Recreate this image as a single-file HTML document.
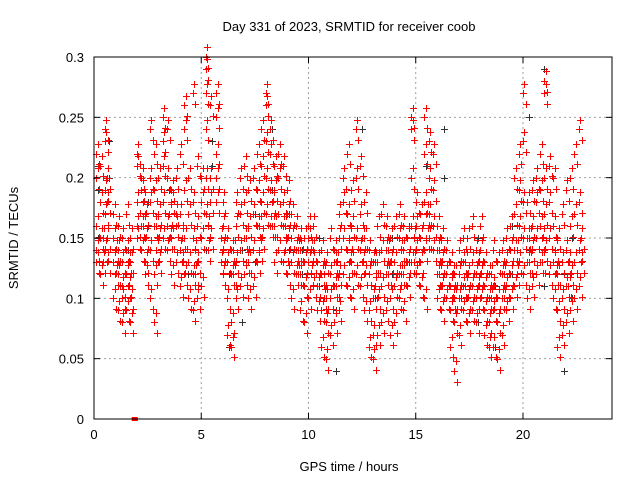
<!DOCTYPE html>
<html><head><meta charset="utf-8"><style>
body{margin:0;background:#fff}
svg{display:block;font-family:"Liberation Sans",sans-serif}
</style></head><body>
<svg id="chart" width="640" height="480">
<text x="349" y="31" font-size="13" text-anchor="middle">Day 331 of 2023, SRMTID for receiver coob</text>
<text x="349" y="471" font-size="13" text-anchor="middle">GPS time / hours</text>
<text x="18" y="238" font-size="13" text-anchor="middle" transform="rotate(-90 18 238)">SRMTID / TECUs</text>
<g id="grid"></g><g id="black"></g><g id="red"></g><g id="axes"></g>
</svg>
<script>
const xTicks=[0,5,10,15,20];
const yTicks=[0,0.05,0.1,0.15,0.2,0.25,0.3];
const yTickLabels=["0","0.05","0.1","0.15","0.2","0.25","0.3"];
const redTimes=[0.1,0.3,0.5,0.6,0.9,1.1,1.3,1.5,1.7,2.0,2.2,2.4,2.6,2.8,3.0,3.2,3.4,3.6,3.8,4.0,4.2,4.4,4.6,4.8,5.0,5.2,5.4,5.7,6.0,6.2,6.4,6.6,6.8,7.0,7.2,7.4,7.6,7.8,8.0,8.2,8.4,8.6,8.8,9.0,9.2,9.4,9.6,9.8,10.0,10.2,10.4,10.6,10.8,11.0,11.2,11.4,11.6,11.8,12.0,12.2,12.4,12.6,12.8,13.0,13.2,13.4,13.6,13.8,14.0,14.2,14.4,14.6,14.8,15.0,15.2,15.4,15.6,15.8,16.0,16.2,16.4,16.6,16.8,17.0,17.2,17.4,17.6,17.8,18.0,18.2,18.4,18.6,18.8,19.0,19.2,19.4,19.6,19.8,20.0,20.2,20.4,20.6,20.8,21.0,21.2,21.4,21.6,21.8,22.0,22.2,22.4,22.6,22.8];
const redVals=[[0.14,0.16,0.2,0.22,0.13],[0.12,0.15,0.18,0.21],[0.17,0.19,0.23,0.24,0.14],[0.2,0.18,0.15,0.13],[0.1,0.13,0.15,0.17],[0.09,0.12,0.14,0.16],[0.08,0.11,0.13,0.15,0.1],[0.09,0.12,0.14,0.17],[0.08,0.1,0.13,0.15],[0.15,0.18,0.21,0.22,0.16],[0.14,0.16,0.19,0.2],[0.12,0.15,0.17,0.13],[0.1,0.14,0.18,0.24,0.2],[0.08,0.12,0.16,0.19,0.22],[0.13,0.15,0.17,0.2],[0.15,0.18,0.21,0.25,0.23],[0.14,0.16,0.2,0.24],[0.12,0.15,0.18,0.19],[0.13,0.16,0.17,0.2],[0.11,0.14,0.17,0.22],[0.12,0.15,0.19,0.24,0.26],[0.1,0.13,0.17,0.2],[0.09,0.12,0.15,0.18,0.27],[0.1,0.13,0.16,0.21],[0.11,0.15,0.18,0.2],[0.17,0.2,0.24,0.27,0.3,0.29],[0.15,0.18,0.2,0.26],[0.18,0.2,0.22,0.25,0.27],[0.12,0.14,0.16,0.18],[0.07,0.1,0.13,0.15],[0.06,0.08,0.12,0.14],[0.1,0.13,0.16,0.18],[0.11,0.14,0.17,0.2],[0.12,0.15,0.18,0.21],[0.1,0.13,0.16,0.19],[0.11,0.14,0.17,0.2],[0.13,0.16,0.19,0.22],[0.15,0.18,0.21,0.24],[0.17,0.2,0.23,0.26,0.27],[0.16,0.19,0.22,0.24],[0.13,0.16,0.19,0.21],[0.14,0.17,0.2,0.22],[0.13,0.16,0.18,0.21],[0.12,0.15,0.17,0.19],[0.1,0.13,0.15,0.17],[0.12,0.14,0.16],[0.09,0.12,0.14,0.15],[0.08,0.11,0.13,0.15],[0.1,0.13,0.15,0.16],[0.11,0.13,0.14,0.16],[0.09,0.11,0.13],[0.06,0.09,0.12,0.14],[0.05,0.08,0.1,0.13],[0.07,0.1,0.12,0.15],[0.08,0.11,0.13,0.14],[0.09,0.12,0.15,0.17],[0.12,0.15,0.18,0.2],[0.11,0.14,0.17,0.22],[0.1,0.13,0.16,0.19],[0.12,0.15,0.2,0.24],[0.11,0.14,0.17,0.21],[0.09,0.12,0.15,0.18],[0.06,0.09,0.12,0.14],[0.05,0.07,0.1,0.13],[0.07,0.1,0.13,0.16],[0.08,0.11,0.14,0.17],[0.09,0.12,0.14,0.16],[0.07,0.1,0.13,0.15],[0.08,0.11,0.13,0.16],[0.1,0.12,0.15,0.17],[0.09,0.12,0.14,0.16],[0.11,0.13,0.15],[0.13,0.16,0.2,0.24,0.25],[0.12,0.14,0.16,0.18],[0.11,0.13,0.15,0.17],[0.1,0.14,0.18,0.22,0.25],[0.15,0.17,0.2,0.23],[0.14,0.16,0.19,0.22],[0.1,0.12,0.14,0.16],[0.09,0.11,0.13,0.15],[0.1,0.12,0.14],[0.06,0.09,0.11,0.13],[0.04,0.08,0.1,0.12],[0.07,0.1,0.12,0.14],[0.09,0.11,0.13,0.15],[0.08,0.1,0.12,0.15],[0.09,0.11,0.13,0.16],[0.08,0.1,0.12,0.14],[0.1,0.12,0.14,0.16],[0.07,0.09,0.11,0.13],[0.06,0.08,0.1,0.12],[0.06,0.09,0.11,0.14],[0.05,0.08,0.1,0.13],[0.07,0.1,0.12,0.14],[0.09,0.11,0.13,0.15],[0.1,0.12,0.14,0.16],[0.11,0.14,0.17,0.2],[0.13,0.16,0.19,0.22],[0.12,0.15,0.18,0.23,0.27],[0.1,0.13,0.15,0.18],[0.11,0.14,0.16,0.19],[0.12,0.15,0.18,0.2],[0.13,0.16,0.19,0.22],[0.14,0.17,0.2,0.27,0.28],[0.12,0.15,0.18,0.21],[0.1,0.13,0.16,0.2],[0.06,0.09,0.12,0.15],[0.07,0.1,0.13,0.17],[0.08,0.11,0.14,0.19],[0.09,0.12,0.16,0.2],[0.1,0.13,0.17,0.22],[0.11,0.14,0.18,0.24]];
const bandTimes=[0.4,1.0,1.6,2.3,2.9,3.5,4.1,4.7,5.3,5.9,6.5,7.1,7.7,8.3,8.9,9.5,10.1,10.7,11.3,11.9,12.5,13.1,13.7,14.3,14.9,15.5,16.1,16.7,17.3,17.9,18.5,19.1,19.7,20.3,20.9,21.5,22.1,22.7];
const bandVals=[[0.13,0.15],[0.12,0.14],[0.11,0.13],[0.16,0.18],[0.14,0.16],[0.15,0.17],[0.13,0.15],[0.12,0.14],[0.14,0.16],[0.13,0.15],[0.12,0.14],[0.13,0.15],[0.14,0.16],[0.16,0.18],[0.14,0.16],[0.12,0.14],[0.12,0.14],[0.1,0.12],[0.11,0.13],[0.13,0.15],[0.13,0.15],[0.11,0.13],[0.12,0.14],[0.12,0.14],[0.13,0.15],[0.15,0.17],[0.12,0.14],[0.1,0.12],[0.11,0.13],[0.11,0.13],[0.1,0.12],[0.1,0.12],[0.12,0.14],[0.13,0.15],[0.13,0.15],[0.12,0.14],[0.11,0.13],[0.13,0.15]];
const zeroTimes=[1.85,1.9,1.95];
const zeroVals=[0,0,0];
const blackTimes=[0.2,0.7,1.6,2.5,3.5,4.4,5.2,5.5,6.3,6.9,7.5,8.3,9.1,9.7,10.5,11.3,12.5,13.1,13.9,14.7,15.5,16.3,17.1,17.9,18.7,19.5,20.3,21.0,21.9,22.3];
const blackVals=[[0.19,0.21,0.15],[0.23,0.2],[0.11,0.14],[0.18,0.16],[0.15,0.19],[0.12,0.17],[0.27,0.24,0.14],[0.23,0.21],[0.06,0.12],[0.08,0.14],[0.13,0.17],[0.24,0.19],[0.17,0.14],[0.14,0.12],[0.11,0.15],[0.04,0.09],[0.24,0.15],[0.1,0.14],[0.15,0.12],[0.16,0.13],[0.21,0.15],[0.24,0.2],[0.13,0.1],[0.08,0.15],[0.06,0.11],[0.16,0.12],[0.25,0.14],[0.29,0.27,0.11],[0.04,0.12],[0.1,0.15]];
const X0=94,X1=612,Y0=419,Y1=57,XMAX=24.15,YMAX=0.3;
const sx=t=>X0+t/XMAX*(X1-X0);
const sy=v=>Y0-v/YMAX*(Y0-Y1);
const NS='http://www.w3.org/2000/svg';
function mk(tag,attrs,parent){const e=document.createElementNS(NS,tag);for(const k in attrs)e.setAttribute(k,attrs[k]);parent.appendChild(e);return e;}
const grid=document.getElementById('grid'),axes=document.getElementById('axes');
xTicks.forEach(t=>{const x=sx(t);
 if(t>0){const g=mk('line',{x1:x,x2:x,y1:Y1,y2:Y0,stroke:'#a0a0a0','stroke-dasharray':'2,3'},grid);}
 const l=mk('line',{x1:x,x2:x,y1:Y0,y2:Y0-6,stroke:'#000'},axes);
 const l2=mk('line',{x1:x,x2:x,y1:Y1,y2:Y1+6,stroke:'#000'},axes);
 const tx=mk('text',{x:x,y:Y0+20,'font-size':13,'text-anchor':'middle'},axes);tx.textContent=t;});
yTicks.forEach((v,i)=>{const y=sy(v);
 if(v>0&&v<YMAX){const g=mk('line',{x1:X0,x2:X1,y1:y,y2:y,stroke:'#a0a0a0','stroke-dasharray':'2,3'},grid);}
 const l=mk('line',{x1:X0,x2:X0+6,y1:y,y2:y,stroke:'#000'},axes);
 const l2=mk('line',{x1:X1,x2:X1-6,y1:y,y2:y,stroke:'#000'},axes);
 const tx=mk('text',{x:X0-10,y:y+5,'font-size':13,'text-anchor':'end'},axes);tx.textContent=yTickLabels[i];});
const fr=mk('rect',{x:X0,y:Y1,width:X1-X0,height:Y0-Y1,fill:'none',stroke:'#000'},axes);


function plus(g,t,v,c,name){const x=Math.round(sx(t))+0.5,y=Math.round(sy(v))+0.5;
 const p=mk('path',{d:`M${x-3.5} ${y}H${x+3.5}M${x} ${y-3.5}V${y+3.5}`,stroke:c,'stroke-width':1},g);
 
 }
const gb=document.getElementById('black'),gr=document.getElementById('red');
const dT=[0,0.07,0.13],dV=[0,0.008,-0.009];
function drawSeries(g,times,vals,color,name,reps){
 const n=Math.min(times.length,vals.length);
 for(let i=0;i<n;i++){const t=times[i];(vals[i]||[]).forEach(v=>{for(let k=0;k<reps;k++)plus(g,t+dT[k],v+dV[k],color,name);});}
}
drawSeries(gb,blackTimes,blackVals,'#333','black-point',1);
drawSeries(gr,redTimes,redVals,'#f00','red-point',3);
drawSeries(gr,bandTimes,bandVals,'#f00','red-point',3);
for(let i=0;i<zeroTimes.length;i++){
 const r=mk('rect',{x:sx(zeroTimes[i])-2,y:sy(zeroVals[i])-2,width:4,height:4,fill:'#f00'},gr);
 
 
}
</script>
</body></html>
